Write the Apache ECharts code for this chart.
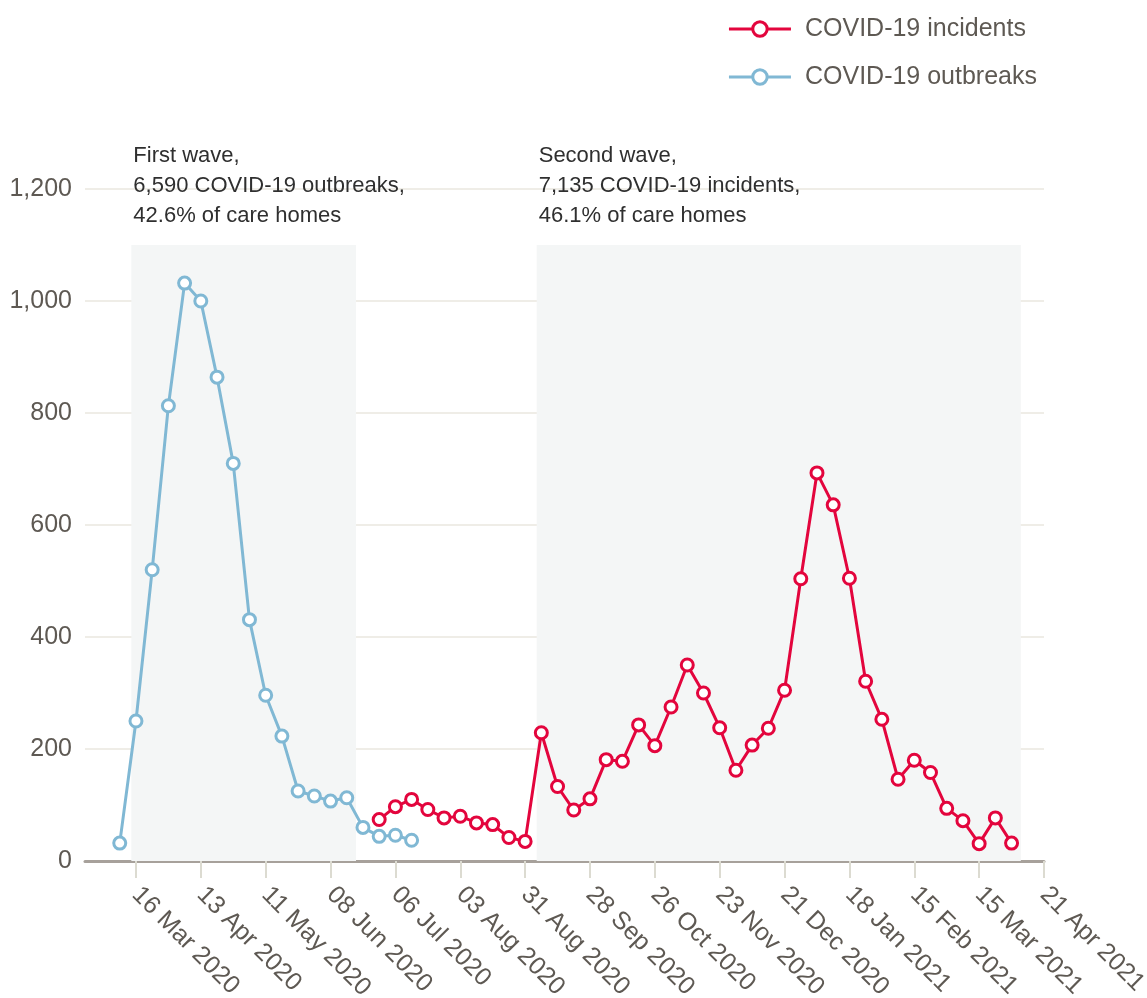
<!DOCTYPE html>
<html>
<head>
<meta charset="utf-8">
<script src="https://cdn.jsdelivr.net/npm/echarts@6/dist/echarts.min.js"></script>
<style>
html,body{margin:0;padding:0;background:#fff;}
#chart{width:1147px;height:998px;}
</style>
</head>
<body>
<div id="chart"></div>
<script>
// ---- data ----
const outbreakWeeks = ['2020-03-09','2020-03-16','2020-03-23','2020-03-30','2020-04-06','2020-04-13','2020-04-20','2020-04-27','2020-05-04','2020-05-11','2020-05-18','2020-05-25','2020-06-01','2020-06-08','2020-06-15','2020-06-22','2020-06-29','2020-07-06','2020-07-13'];
const outbreaks = [32, 250, 520, 813, 1032, 1000, 864, 710, 431, 296, 223, 125, 116, 107, 113, 60, 44, 46, 37];

const incidentWeeks = ['2020-06-29','2020-07-06','2020-07-13','2020-07-20','2020-07-27','2020-08-03','2020-08-10','2020-08-17','2020-08-24','2020-08-31',
  '2020-09-07','2020-09-14','2020-09-21','2020-09-28','2020-10-05','2020-10-12','2020-10-19','2020-10-26',
  '2020-11-02','2020-11-09','2020-11-16','2020-11-23','2020-11-30','2020-12-07','2020-12-14','2020-12-21','2020-12-28',
  '2021-01-04','2021-01-11','2021-01-18','2021-01-25','2021-02-01','2021-02-08','2021-02-15','2021-02-22',
  '2021-03-01','2021-03-08','2021-03-15','2021-03-22','2021-03-29'];
const incidents = [74, 97, 110, 92, 77, 80, 68, 65, 42, 35,
  229, 133, 91, 111, 181, 178, 243, 206,
  275, 350, 300, 238, 162, 207, 237, 305, 504,
  693, 636, 505, 321, 253, 146, 180, 158,
  94, 72, 31, 77, 32];

const tickDates = ['2020-03-16','2020-04-13','2020-05-11','2020-06-08','2020-07-06','2020-08-03','2020-08-31','2020-09-28','2020-10-26','2020-11-23','2020-12-21','2021-01-18','2021-02-15','2021-03-15','2021-04-12'];
const tickLabels = ['16 Mar 2020','13 Apr 2020','11 May 2020','08 Jun 2020','06 Jul 2020','03 Aug 2020','31 Aug 2020','28 Sep 2020','26 Oct 2020','23 Nov 2020','21 Dec 2020','18 Jan 2021','15 Feb 2021','15 Mar 2021','21 Apr 2021'];

const waves = [
  {from: '2020-03-14', to: '2020-06-19', top: 1100, text: ['First wave,', '6,590 COVID-19 outbreaks,', '42.6% of care homes']},
  {from: '2020-09-05', to: '2021-04-02', top: 1100, text: ['Second wave,', '7,135 COVID-19 incidents,', '46.1% of care homes']}
];

const yTicks = {min: 0, max: 1200, interval: 200};
const xRange = {min: '2020-02-23', max: '2021-04-12'};

// ---- helpers: x is measured in days from the axis start ----
const DAY = 86400000;
function ts(s){ const p = s.split('-').map(Number); return Date.UTC(p[0], p[1]-1, p[2]); }
const base = ts(xRange.min);
function dx(s){ return Math.round((ts(s) - base) / DAY); }
const tickPos = tickDates.map(dx);

const FONT = '"Liberation Sans", Arial, Helvetica, sans-serif';
const RED = '#e3053d';
const BLUE = '#80b8d4';
const LABEL = '#5e5953';

const chart = echarts.init(document.getElementById('chart'), null, {renderer: 'canvas'});

const option = {
  animation: false,
  textStyle: {fontFamily: FONT},
  grid: {left: 85, right: 103, top: 189, bottom: 137, containLabel: false, outerBoundsMode: 'none'},
  legend: {
    orient: 'vertical',
    right: 105,
    top: 11,
    itemWidth: 62,
    itemHeight: 18,
    itemGap: 22,
    data: ['COVID-19 incidents', 'COVID-19 outbreaks'],
    itemStyle: {borderWidth: 3},
    lineStyle: {width: 3},
    textStyle: {fontFamily: FONT, fontSize: 25, color: LABEL, lineHeight: 26, padding: [0,0,0,9]}
  },
  xAxis: {
    type: 'value',
    min: 0,
    max: dx(xRange.max),
    splitLine: {show: false},
    axisLine: {show: true, lineStyle: {color: '#a7a19b', width: 3}},
    axisTick: {show: true, length: 17, lineStyle: {color: '#dcdbd1', width: 2}, customValues: tickPos},
    axisLabel: {
      customValues: tickPos,
      rotate: -45,
      margin: 30,
      fontSize: 25,
      color: LABEL,
      fontFamily: FONT,
      hideOverlap: false,
      formatter: function(v){ const i = tickPos.indexOf(v); return i >= 0 ? tickLabels[i] : ''; }
    }
  },
  yAxis: {
    type: 'value',
    min: yTicks.min, max: yTicks.max, interval: yTicks.interval,
    axisLine: {show: false},
    axisTick: {show: false},
    splitLine: {show: true, lineStyle: {color: '#efede7', width: 2}},
    axisLabel: {
      margin: 13, fontSize: 25, color: LABEL, fontFamily: FONT,
      formatter: function(v){ return v.toLocaleString('en-US'); }
    }
  },
  series: [
    {
      name: 'COVID-19 outbreaks',
      type: 'line',
      z: 3,
      data: outbreakWeeks.map((d, i) => [dx(d), outbreaks[i]]),
      symbol: 'circle',
      symbolSize: 12,
      lineStyle: {color: BLUE, width: 3},
      itemStyle: {color: '#fff', borderColor: BLUE, borderWidth: 3},
      markArea: {
        silent: true,
        itemStyle: {color: '#f4f6f6'},
        data: waves.map(w => [{xAxis: dx(w.from), yAxis: 0}, {xAxis: dx(w.to), yAxis: w.top}])
      }
    },
    {
      name: 'COVID-19 incidents',
      type: 'line',
      z: 4,
      data: incidentWeeks.map((d, i) => [dx(d), incidents[i]]),
      symbol: 'circle',
      symbolSize: 12,
      lineStyle: {color: RED, width: 3},
      itemStyle: {color: '#fff', borderColor: RED, borderWidth: 3}
    }
  ]
};
chart.setOption(option);

// annotations anchored to the wave starts via the axis scale
const g = waves.map(w => {
  const p = chart.convertToPixel({xAxisIndex: 0, yAxisIndex: 0}, [dx(w.from), yTicks.max]);
  return {
    type: 'text',
    x: p[0] + 2,
    y: 141,
    style: {text: w.text.join('\n'), fontFamily: FONT, fontSize: 22, lineHeight: 30, fill: '#2f2f2f'}
  };
});
chart.setOption({graphic: g});
</script>
</body>
</html>
